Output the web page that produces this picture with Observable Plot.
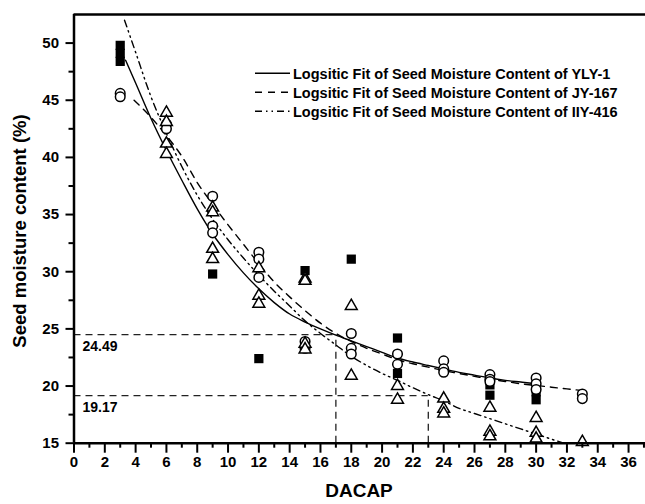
<!DOCTYPE html>
<html><head><meta charset="utf-8">
<script src="https://cdn.jsdelivr.net/npm/d3@7"></script>
<script src="https://cdn.jsdelivr.net/npm/@observablehq/plot@0.6"></script>
<style>
body{margin:0;background:#fff;}
#wrap{width:645px;height:504px;}
</style></head><body><div id="wrap"></div>
<script>
// ---- data ----
const seriesNames = ["Logsitic Fit of Seed Moisture Content of YLY-1",
                     "Logsitic Fit of Seed Moisture Content of JY-167",
                     "Logsitic Fit of Seed Moisture Content of IIY-416"];

// YLY-1 (filled squares)
const ylyX = [3,3,3,6,9,12,12,15,18,18,21,21,27,27,30,30];
const ylyY = [49.8,49.1,48.4,42.7,29.8,31.2,22.4,30.1,31.1,23.1,24.2,21.1,20.1,19.2,19.5,18.8];
// JY-167 (open circles)
const jyX = [3,3,6,6,9,9,9,12,12,12,15,15,18,18,18,21,21,24,24,24,27,27,27,30,30,30,33,33];
const jyY = [45.6,45.3,42.9,42.5,36.6,34.0,33.4,31.7,31.1,29.5,23.9,23.3,24.6,23.3,22.8,22.8,21.9,22.2,21.5,21.2,21.0,20.6,20.4,20.7,20.2,19.7,19.3,18.9];
// IIY-416 (open triangles)
const iiyX = [6,6,6,6,9,9,9,9,12,12,12,15,15,15,15,18,18,21,21,24,24,24,27,27,27,30,30,30,33];
const iiyY = [43.9,43.1,41.2,40.3,35.6,35.2,32.0,31.1,30.3,27.9,27.2,29.4,29.2,23.7,23.2,27.0,20.9,20.0,18.8,18.9,18.0,17.6,18.1,16.0,15.6,17.2,15.9,15.4,15.1];

// fitted curves
const fitYlyX = [3.35,4,5,6,7,8,9,10,11,12,13,14,15,16,17,18,19,20,21,22,23,24,25,26,27,28,29,30];
const fitYlyY = [48.5,46.5,43.4,40.6,38.0,35.5,33.3,31.5,29.9,28.5,27.3,26.3,25.6,25.0,24.45,23.95,23.45,22.95,22.45,22.1,21.8,21.5,21.2,20.95,20.7,20.5,20.35,20.2];
const fitJyX = [3.9,5,6,7,8,9,10,11,12,13,14,15,16,17,18,19,20,21,22,23,24,25,26,27,28,29,30,31,32,33];
const fitJyY = [45.0,43.5,41.9,40.1,37.8,35.9,34.1,32.4,30.7,29.1,27.8,26.6,25.5,24.6,23.9,23.3,22.8,22.3,21.95,21.65,21.35,21.1,20.85,20.6,20.4,20.2,20.05,19.9,19.75,19.6];
const fitIiyX = [3.28,4,5,6,7,8,9,10,11,12,13,14,15,16,17,18,19,20,21,22,23,24,25,26,27,28,29,30,31,31.8];
const fitIiyY = [52.0,49.2,45.3,42.1,39.2,36.7,34.6,32.8,31.2,29.7,28.3,27.0,25.7,24.6,23.6,22.6,21.8,21.1,20.5,19.85,19.25,18.7,18.05,17.6,17.15,16.7,16.25,15.8,15.35,15.0];

// reference lines
const refX = [17, 23];
const refY = [24.49, 19.17];
const refLabels = ["24.49", "19.17"];

// axes
const xDomain = [0, 37.1];
const yDomain = [15, 52.5];
const xMajor = [0,2,4,6,8,10,12,14,16,18,20,22,24,26,28,30,32,34,36];
const xMinor = [1,3,5,7,9,11,13,15,17,19,21,23,25,27,29,31,33,35,37];
const yMajor = [15,20,25,30,35,40,45,50];
const yMinor = [17.5,22.5,27.5,32.5,37.5,42.5,47.5];
const xLabel = "DACAP";
const yLabel = "Seed moisture content (%)";

// ---- build tables ----
const pts = (xs, ys) => xs.map((x, i) => ({x, y: ys[i]}));
const refs = refX.map((x, i) => ({x, y: refY[i], label: refLabels[i]}));
const FONT = "'Liberation Sans', Arial, sans-serif";

const plot = Plot.plot({
  width: 645, height: 504,
  marginLeft: 73.5, marginRight: 0, marginTop: 14, marginBottom: 61.3,
  style: {fontFamily: FONT, fontWeight: "bold", fontSize: "15px", background: "#fff", color: "#000"},
  x: {domain: xDomain},
  y: {domain: yDomain},
  marks: [
    // reference lines
    Plot.ruleY(refs, {x1: 0, x2: "x", y: "y", stroke: "#222", strokeWidth: 1.3, strokeDasharray: "7,5"}),
    Plot.ruleX(refs, {x: "x", y1: yDomain[0], y2: "y", stroke: "#222", strokeWidth: 1.3, strokeDasharray: "7,5"}),
    Plot.text(refs, {x: 0, y: "y", text: "label", textAnchor: "start", dx: 8.5, dy: 12, fontSize: 14, fontWeight: "bold"}),
    // fitted curves
    Plot.line(pts(fitYlyX, fitYlyY), {x: "x", y: "y", curve: "monotone-x", stroke: "#000", strokeWidth: 1.4}),
    Plot.line(pts(fitJyX, fitJyY), {x: "x", y: "y", curve: "monotone-x", stroke: "#000", strokeWidth: 1.4, strokeDasharray: "7,6"}),
    Plot.line(pts(fitIiyX, fitIiyY), {x: "x", y: "y", curve: "monotone-x", stroke: "#000", strokeWidth: 1.4, strokeDasharray: "7,4,1.5,4,1.5,4"}),
    // points
    Plot.dot(pts(ylyX, ylyY), {x: "x", y: "y", symbol: "square", r: 5.2, fill: "#000", stroke: "none"}),
    Plot.dot(pts(jyX, jyY), {x: "x", y: "y", symbol: "circle", r: 4.8, fill: "#fff", stroke: "#000", strokeWidth: 1.5}),
    Plot.dot(pts(iiyX, iiyY), {x: "x", y: "y", symbol: "triangle", r: 4.4, fill: "#fff", stroke: "#000", strokeWidth: 1.5}),
    // axes
    Plot.axisX({ticks: xMajor, tickSize: 10, tickPadding: 3, strokeWidth: 2, label: null, tickFormat: d => String(d)}),
    Plot.axisX({ticks: xMinor, tickSize: 5, strokeWidth: 2, label: null, tickFormat: () => ""}),
    Plot.axisY({ticks: yMajor, tickSize: 8, tickPadding: 7, strokeWidth: 2, label: null, tickFormat: d => String(d)}),
    Plot.axisY({ticks: yMinor, tickSize: 5, strokeWidth: 2, label: null, tickFormat: () => ""}),
    Plot.ruleX([xDomain[0]], {stroke: "#000", strokeWidth: 2.5}),
    Plot.ruleY([yDomain[0]], {stroke: "#000", strokeWidth: 2.5}),
    Plot.ruleY([yDomain[1]], {stroke: "#000", strokeWidth: 2.5})
  ]
});

document.getElementById("wrap").appendChild(plot);
const svg = d3.select(plot);

// axis titles
svg.append("text").attr("x", 359).attr("y", 497).attr("text-anchor", "middle")
  .attr("font-family", FONT).attr("font-weight", "bold").attr("font-size", 19).text(xLabel);
svg.append("text").attr("transform", "translate(26,231) rotate(-90)").attr("text-anchor", "middle")
  .attr("font-family", FONT).attr("font-weight", "bold").attr("font-size", 18.5).text(yLabel);

// legend
const dashes = [null, "7,6", "7,4,1.5,4,1.5,4"];
const lg = svg.append("g").attr("text-anchor", "start");
seriesNames.forEach((name, i) => {
  const cy = 73.3 + i * 19;
  const l = lg.append("line").attr("x1", 255).attr("x2", 290).attr("y1", cy).attr("y2", cy)
    .attr("stroke", "#000").attr("stroke-width", 1.4);
  if (dashes[i]) l.attr("stroke-dasharray", dashes[i]);
  lg.append("text").attr("x", 293).attr("y", cy).attr("dy", "0.36em").attr("text-anchor", "start")
    .attr("font-family", FONT).attr("font-weight", "bold").attr("font-size", 14.5).text(name);
});
</script></body></html>
